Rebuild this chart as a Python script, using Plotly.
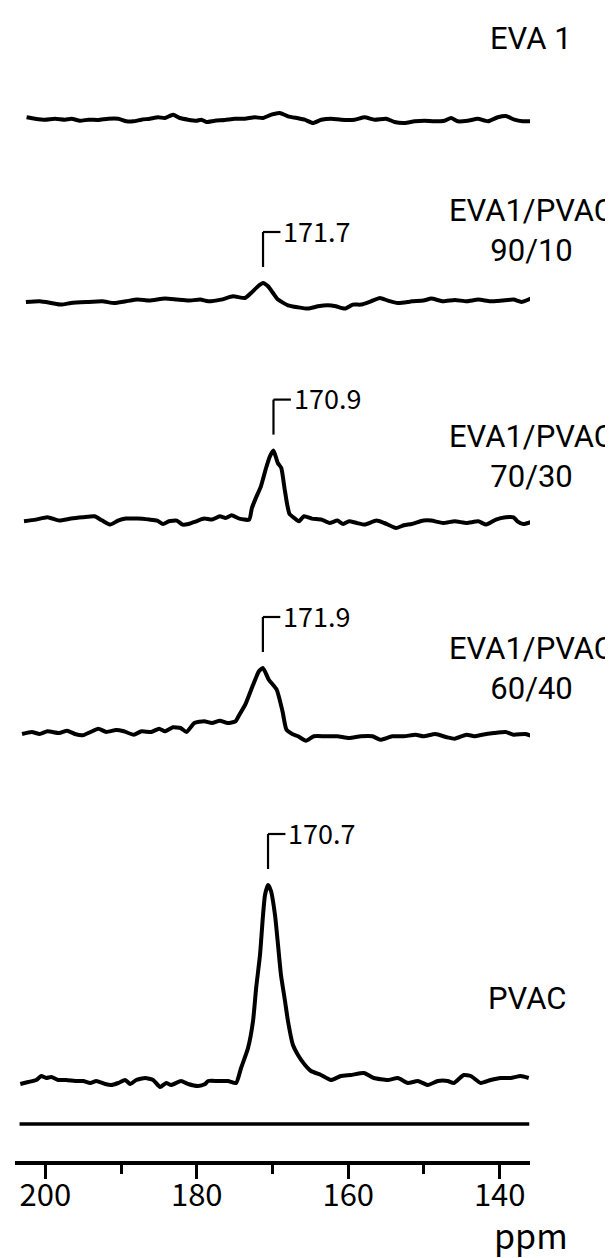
import plotly.graph_objects as go

# ---------------- data: chemical shift (ppm) and relative intensity ----------------
eva1_ppm = [202.47, 201.36, 200.04, 198.72, 197.40, 196.53, 195.42, 194.33, 193.01, 191.69,
            190.37, 189.28, 188.40, 187.30, 186.19, 185.10, 184.21, 183.12, 182.24, 181.14,
            180.05, 179.39, 178.73, 177.62, 176.30, 174.98, 173.66, 172.35, 171.25, 170.16,
            169.05, 167.95, 166.64, 165.75, 164.66, 163.56, 162.24, 160.93, 159.16, 157.84,
            156.52, 154.99, 153.89, 152.56, 151.25, 149.93, 148.61, 147.29, 146.42, 145.54,
            144.22, 142.90, 141.58, 140.26, 139.17, 138.06, 136.97, 135.87]
eva1_int = [2.2, 0.8, -0.2, 0.8, -0.2, 0.8, -1.2, -0.2, -0.5, 0.8,
            0.8, -1.8, -1.8, -0.2, 0.8, 2.2, 1.5, 4.8, 1.5, -0.2,
            -1.2, -0.2, -2.5, -1.2, -0.5, 0.8, 0.8, 2.2, 1.5, 4.8,
            6.5, 3.2, 1.2, -0.2, -3.5, -0.2, 0.8, -0.2, -0.2, 2.2,
            -0.2, 0.8, -2.5, -3.5, -1.8, -1.2, -1.8, -1.2, 1.5, -1.8,
            -1.2, 0.8, -1.8, 2.2, 3.5, -0.2, -1.8, -1.8]

b9010_ppm = [202.56, 200.74, 199.20, 197.90, 196.61, 194.54, 192.47, 190.91, 189.37, 187.82,
             186.26, 184.19, 182.65, 181.09, 179.53, 178.50, 176.79, 175.21, 173.63, 172.83,
             171.91, 171.25, 170.59, 169.93, 169.27, 167.96, 166.64, 165.32, 164.00, 162.68,
             161.63, 160.44, 159.39, 158.33, 157.01, 155.82, 154.77, 153.45, 152.13, 151.61,
             150.06, 149.03, 147.48, 145.92, 144.38, 142.82, 141.27, 139.72, 138.17, 137.14,
             135.90]
b9010_int = [-0.7, 0.0, -1.7, -3.3, -1.7, -0.7, 0.0, -1.7, 0.0, 1.7,
             0.7, 2.7, 1.7, 0.7, 1.7, 0.0, 1.7, 5.0, 3.3, 8.3,
             15.0, 18.3, 15.0, 8.3, 1.7, -4.0, -6.0, -7.3, -5.0, -4.0,
             -5.0, -7.3, -3.3, -3.3, 0.0, 3.3, 0.7, -1.7, -0.7, 0.0,
             0.7, 2.7, 0.0, 1.3, 0.0, 1.7, 0.0, 0.7, 1.7, -0.7,
             2.7]

b7030_ppm = [202.81, 201.26, 199.71, 198.16, 196.61, 195.05, 193.50, 192.47, 191.43, 190.40,
             189.37, 187.81, 186.26, 185.23, 184.45, 183.68, 182.64, 181.87, 181.09, 180.06,
             179.02, 177.99, 176.96, 176.18, 175.40, 174.37, 173.08, 172.72, 172.20, 171.53,
             170.85, 170.34, 169.87, 169.30, 168.84, 168.42, 168.06, 167.75, 167.13, 166.51,
             165.84, 164.80, 163.51, 162.48, 161.44, 160.67, 159.89, 158.86, 157.82, 156.27,
             155.24, 153.69, 152.65, 151.62, 150.07, 149.03, 147.48, 145.93, 144.38, 142.83,
             141.79, 140.50, 139.21, 138.17, 137.66, 136.88, 135.59]
b7030_int = [0.0, 1.7, 4.0, 0.7, 2.7, 4.0, 5.0, 0.7, -3.3, 0.7,
             2.7, 2.7, 1.7, 0.7, -2.7, 0.0, 0.7, -3.3, -2.7, 0.0,
             2.7, 1.7, 5.0, 3.3, 6.0, 2.7, 1.7, 13.3, 23.3, 35.0,
             53.3, 65.0, 70.7, 58.3, 53.3, 33.3, 16.7, 7.3, 3.3, 0.0,
             5.0, 2.7, 1.7, -1.7, 0.7, -2.7, 0.0, -1.7, -3.3, 0.7,
             -1.7, -6.7, -4.0, -2.7, 0.7, 0.7, -1.7, 0.0, -1.7, 0.0,
             -3.3, 1.7, 4.0, 4.0, 0.0, -2.7, 0.0]

b6040_ppm = [203.07, 201.78, 200.74, 199.71, 198.16, 197.12, 196.09, 195.05, 194.02, 192.99,
             191.95, 190.66, 189.63, 188.33, 187.30, 186.00, 184.97, 184.20, 183.16, 182.13,
             181.35, 180.32, 179.02, 177.99, 176.96, 175.92, 174.89, 174.37, 173.60, 172.56,
             171.79, 171.27, 170.49, 169.45, 168.68, 168.16, 167.39, 166.61, 165.58, 164.55,
             163.00, 161.44, 159.89, 158.34, 156.79, 155.75, 154.20, 152.65, 151.10, 150.07,
             148.51, 146.96, 145.93, 144.38, 143.35, 142.31, 140.76, 139.21, 138.17, 136.62,
             135.59]
b6040_int = [0.0, 2.0, 0.0, 2.7, 1.0, 3.3, 0.0, -1.3, 2.0, 5.3,
             2.0, 4.0, 2.7, -0.7, 2.7, 2.0, 5.3, 2.7, 6.7, 6.0,
             2.0, 11.0, 12.7, 11.0, 13.3, 11.0, 12.7, 19.3, 29.3, 49.3,
             62.7, 66.0, 54.3, 44.3, 22.7, 4.3, 0.0, -2.3, -6.7, -2.3,
             -2.3, -2.3, -4.0, -2.3, -2.3, -5.7, -2.3, -2.3, -0.7, -2.3,
             0.0, -3.3, -4.7, -0.7, -2.3, -0.7, 1.0, 2.0, -0.7, 0.0,
             -2.3]

pvac_ppm = [203.30, 202.24, 201.19, 200.53, 199.89, 199.21, 198.29, 197.23, 196.04, 194.99,
            194.07, 193.27, 192.09, 191.30, 190.37, 189.45, 188.79, 188.00, 186.81, 185.76,
            184.84, 184.04, 183.39, 182.07, 181.14, 179.82, 178.90, 178.50, 177.19, 175.87,
            174.81, 174.15, 173.23, 172.57, 172.16, 171.65, 171.25, 170.99, 170.59, 170.20,
            169.67, 169.27, 168.88, 168.35, 167.96, 167.30, 166.64, 165.71, 164.92, 163.60,
            162.29, 160.97, 159.65, 157.93, 156.62, 154.77, 153.45, 152.13, 150.81, 149.49,
            148.17, 146.86, 146.07, 144.75, 143.82, 142.50, 141.19, 139.87, 138.55, 137.23,
            136.17]
pvac_int = [-4, -2, 0, 4, 2, 3, 0, 0, -1, -1,
            -3, -1, -4, -5, -3, 0, -4, 0, 2, 0,
            -7, -3, -5, -1, -4, -6, -4, -1, -1, -1,
            -3, 12, 32, 59, 92, 125, 165, 185, 195, 189,
            165, 135, 105, 79, 59, 35, 25, 15, 9, 5,
            0, 4, 5, 7, 2, 0, 2, -3, -1, -5,
            -1, -1, -3, 5, 4, -3, 0, 2, 2, 4,
            2]

sample_labels = ["EVA 1", "EVA1/PVAC<br>90/10", "EVA1/PVAC<br>70/30",
                 "EVA1/PVAC<br>60/40", "PVAC"]
peak_labels = [None, "171.7", "170.9", "171.9", "170.7"]
tick_values = [200, 180, 160, 140]
tick_labels = ["200", "180", "160", "140"]
minor_tick_values = [190, 170, 150]
axis_title = "ppm"

spectra_ppm = [eva1_ppm, b9010_ppm, b7030_ppm, b6040_ppm, pvac_ppm]
spectra_int = [eva1_int, b9010_int, b7030_int, b6040_int, pvac_int]

# ---------------- layout (stacking and label placement) ----------------
W, H = 613, 1258
L_M, R_M, T_M, B_M = 7, 91, 0, 105
Y_TOP = H - T_M - B_M            # vertical units == pixels of the plot area
stack_offsets = [1041.5, 859.7, 639.7, 427.0, 81.0]
label_y = [1123, 931, 705, 493, 163]
label_x = [1.002, 1.002, 1.002, 1.002, 0.995]
FONT = "'Noto Sans CJK SC', 'Noto Sans', 'DejaVu Sans', sans-serif"
LABEL_FONT = "Roboto, 'Liberation Sans', sans-serif"
INK = "#000000"

fig = go.Figure()

for ppm, inten, off in zip(spectra_ppm, spectra_int, stack_offsets):
    fig.add_trace(go.Scatter(
        x=ppm, y=[off + v for v in inten], mode="lines",
        line=dict(color=INK, width=4, shape="spline", smoothing=0.5),
        hoverinfo="skip", showlegend=False))

shapes = []
annotations = []

# peak markers: bracket above the apex plus the shift value
for ppm, inten, off, lab in zip(spectra_ppm, spectra_int, stack_offsets, peak_labels):
    if lab is None:
        continue
    k = max(range(len(inten)), key=lambda i: inten[i])
    px, py = ppm[k], off + inten[k]
    y0, y1 = py + 16, py + 51
    x1 = px - 2.3
    shapes.append(dict(type="line", xref="x", yref="y", x0=px, x1=px, y0=y0, y1=y1,
                       line=dict(color=INK, width=2.2)))
    shapes.append(dict(type="line", xref="x", yref="y", x0=px, x1=x1, y0=y1, y1=y1,
                       line=dict(color=INK, width=2.2)))
    annotations.append(dict(x=x1 - 0.1, y=y1 + 2, xref="x", yref="y", text=lab,
                            showarrow=False, xanchor="left", yanchor="middle",
                            font=dict(family=FONT, size=27, color=INK)))

# sample names at the right
for txt, yy, lx in zip(sample_labels, label_y, label_x):
    annotations.append(dict(x=lx, y=yy, xref="paper", yref="y", text=txt,
                            showarrow=False, xanchor="center", yanchor="middle",
                            align="center",
                            font=dict(family=LABEL_FONT, size=31, color=INK)))

# axis unit (paper coordinates, below the scale)
annotations.append(dict(x=1.002, y=-73 / Y_TOP, xref="paper", yref="paper", text=axis_title,
                        showarrow=False, xanchor="center", yanchor="middle",
                        font=dict(family=FONT, size=34, color=INK)))

# reference line above the scale
shapes.append(dict(type="line", xref="x", yref="y", x0=203.4, x1=136.1, y0=37, y1=37,
                   line=dict(color=INK, width=3.5)))

fig.update_layout(
    width=W, height=H,
    margin=dict(l=L_M, r=R_M, t=T_M, b=B_M, autoexpand=False),
    paper_bgcolor="white", plot_bgcolor="white",
    shapes=shapes, annotations=annotations,
    xaxis=dict(range=[204.0, 136.0], showgrid=False, zeroline=False,
               showline=True, linecolor=INK, linewidth=3.5,
               ticks="outside", ticklen=14, tickwidth=2.5, tickcolor=INK,
               tickvals=tick_values, ticktext=tick_labels,
               tickfont=dict(family=FONT, size=31, color=INK),
               ticklabelstandoff=-10,
               minor=dict(tickvals=minor_tick_values, ticks="outside", ticklen=9,
                          tickwidth=2.5, tickcolor=INK),
               fixedrange=True),
    yaxis=dict(range=[0, Y_TOP], visible=False, fixedrange=True),
)

fig.write_html("out.html")
